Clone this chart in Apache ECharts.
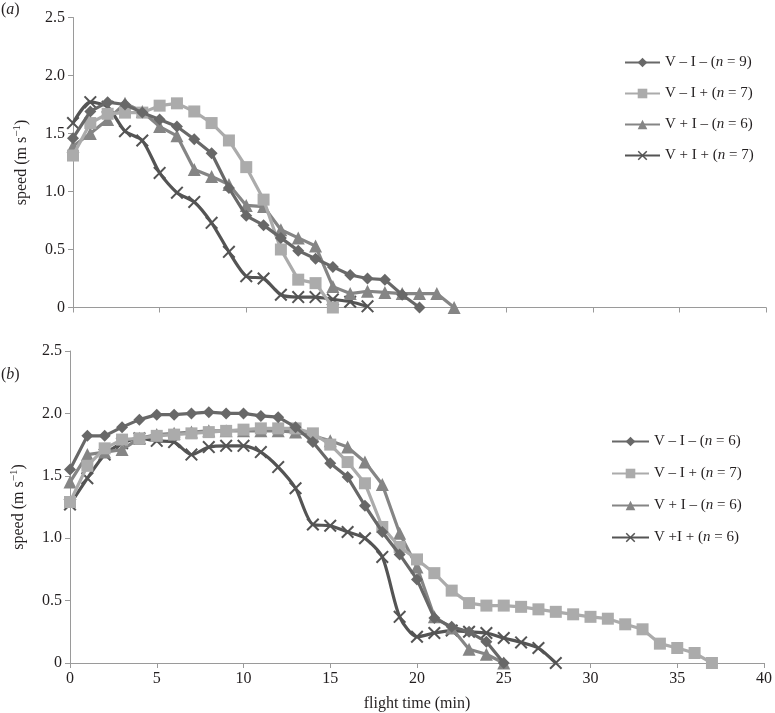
<!DOCTYPE html>
<html>
<head>
<meta charset="utf-8">
<script src="https://cdn.jsdelivr.net/npm/echarts@6/dist/echarts.min.js"></script>
<style>html,body{margin:0;padding:0;background:#fff}#c{width:775px;height:713px}</style>
</head>
<body>
<div id="c"></div>
<script>
// ---- data ----
const minutes = [0,1,2,3,4,5,6,7,8,9,10,11,12,13,14,15,16,17,18,19,20,21,22,23,24,25,26,27,28,29,30,31,32,33,34,35,36,37];
const xTicks = [0,5,10,15,20,25,30,35,40];
const yTicks = [0,0.5,1.0,1.5,2.0,2.5];

const groupLabels = ['V – I – (', 'V – I + (', 'V + I – (', 'V + I + ('];
const groupLabelsB = ['V – I – (', 'V – I + (', 'V + I – (', 'V +I + ('];
const nA = [9, 7, 6, 7];
const nB = [6, 7, 6, 6];

// panel (a)
const aVmIm = [1.46,1.69,1.77,1.75,1.68,1.62,1.56,1.45,1.33,1.03,0.79,0.71,0.60,0.49,0.42,0.35,0.28,0.25,0.24,0.11,0.0];
const aVmIp = [1.31,1.59,1.67,1.68,1.68,1.74,1.76,1.69,1.59,1.44,1.21,0.93,0.50,0.24,0.21,0.0];
const aVpIm = [1.39,1.50,1.62,1.76,1.69,1.56,1.48,1.19,1.13,1.06,0.88,0.87,0.67,0.60,0.53,0.18,0.12,0.14,0.13,0.12,0.12,0.12,0.0];
const aVpIp = [1.59,1.77,1.73,1.52,1.44,1.16,0.99,0.91,0.73,0.48,0.27,0.25,0.11,0.09,0.09,0.07,0.05,0.01];

// panel (b)
const bVmIm = [1.55,1.82,1.82,1.89,1.95,1.99,1.99,2.00,2.01,2.00,2.00,1.98,1.97,1.89,1.77,1.60,1.49,1.26,1.05,0.87,0.67,0.36,0.29,0.25,0.17,0.0];
const bVmIp = [1.29,1.58,1.72,1.79,1.80,1.82,1.83,1.84,1.85,1.86,1.87,1.88,1.88,1.88,1.84,1.75,1.61,1.44,1.09,0.93,0.83,0.72,0.58,0.48,0.46,0.46,0.45,0.43,0.41,0.39,0.37,0.355,0.31,0.27,0.155,0.12,0.08,0.0];
const bVpIm = [1.45,1.67,1.69,1.71,1.80,1.83,1.84,1.85,1.86,1.86,1.86,1.86,1.86,1.85,1.82,1.78,1.73,1.61,1.43,1.04,0.77,0.37,0.28,0.11,0.07,0.0];
const bVpIp = [1.27,1.48,1.67,1.76,1.80,1.78,1.77,1.67,1.73,1.74,1.74,1.69,1.57,1.40,1.11,1.10,1.05,1.00,0.85,0.37,0.21,0.24,0.26,0.25,0.24,0.20,0.165,0.12,0.0];

// ---- styles ----
const FONT = 'Liberation Serif';
const colors = ['#686868', '#ababab', '#858585', '#545454'];
const XMARK = 'path://M0,1.1 L1.1,0 L5,3.9 L8.9,0 L10,1.1 L6.1,5 L10,8.9 L8.9,10 L5,6.1 L1.1,10 L0,8.9 L3.9,5 Z';
const symbols = ['diamond', 'rect', 'triangle', XMARK];
const symSizes = [12, 12, 13, 13];

function pairs(vals){ return vals.map((v,i)=>[minutes[i], v]); }

const seriesA = [aVmIm, aVmIp, aVpIm, aVpIp];
const seriesB = [bVmIm, bVmIp, bVpIm, bVpIp];

function mkSeries(arr, prefix, gi){
  return arr.map((vals, k) => ({
    name: prefix + k,
    type: 'line',
    xAxisIndex: gi, yAxisIndex: gi,
    data: pairs(vals),
    symbol: symbols[k],
    symbolSize: symSizes[k],
    smooth: k === 3 ? 0.25 : false,
    showAllSymbol: true,
    lineStyle: { color: colors[k], width: 3.2 },
    itemStyle: { color: colors[k] },
    emphasis: { disabled: true },
    z: 2 + (3 - k)
  }));
}

const legendNameMap = {};
['a0','a1','a2','a3'].forEach((nm,k)=>{ legendNameMap[nm] = '{r|' + groupLabels[k] + '}{i|n}{r| = ' + nA[k] + ')}'; });
['b0','b1','b2','b3'].forEach((nm,k)=>{ legendNameMap[nm] = '{r|' + groupLabelsB[k] + '}{i|n}{r| = ' + nB[k] + ')}'; });

const legendText = {
  fontFamily: FONT, fontSize: 15, color: '#231f20',
  rich: {
    r: { fontFamily: FONT, fontSize: 15, color: '#231f20' },
    i: { fontFamily: FONT, fontSize: 15, color: '#231f20', fontStyle: 'italic' }
  }
};

const axisLineStyle = { lineStyle: { color: '#9a9a9a', width: 1 } };
const axisLabelStyle = { fontFamily: FONT, fontSize: 16, color: '#231f20' };

function yAxis(gi){
  return {
    type: 'value', gridIndex: gi, min: yTicks[0], max: yTicks[yTicks.length-1], interval: 0.5,
    axisLine: Object.assign({ show: true }, axisLineStyle),
    axisTick: { show: true, length: 5, lineStyle: { color: '#9a9a9a' } },
    splitLine: { show: false },
    axisLabel: Object.assign({ margin: 8, formatter: v => v === 0 ? '0' : v.toFixed(1) }, axisLabelStyle),
    name: '{r|speed (m s}{s|−1}{r|)}',
    nameLocation: 'middle', nameRotate: 90, nameGap: 42,
    nameTextStyle: {
      fontFamily: FONT, fontSize: 16, color: '#231f20',
      rich: {
        r: { fontFamily: FONT, fontSize: 16, color: '#231f20' },
        s: { fontFamily: FONT, fontSize: 11, color: '#231f20', verticalAlign: 'top', padding: [0,0,8,0] }
      }
    }
  };
}
function xAxis(gi, labels){
  const ax = {
    type: 'value', gridIndex: gi, min: xTicks[0], max: xTicks[xTicks.length-1], interval: 5,
    axisLine: Object.assign({ show: true, onZero: false }, axisLineStyle),
    axisTick: { show: true, length: 5, lineStyle: { color: '#9a9a9a' } },
    splitLine: { show: false },
    axisLabel: Object.assign({ show: labels, margin: 8 }, axisLabelStyle)
  };
  if (labels) {
    ax.name = 'flight time (min)';
    ax.nameLocation = 'middle';
    ax.nameGap = 33;
    ax.nameTextStyle = { fontFamily: FONT, fontSize: 16, color: '#231f20' };
  }
  return ax;
}

const option = {
  backgroundColor: '#ffffff',
  animation: false,
  grid: [
    { left: 73, top: 17.5, right: 9, height: 290 },
    { left: 70, top: 351, right: 9, height: 312.5 }
  ],
  xAxis: [xAxis(0, false), xAxis(1, true)],
  yAxis: [yAxis(0), yAxis(1)],
  legend: [
    { data: ['a0','a1','a2','a3'], orient: 'vertical', left: 619, top: 50, itemWidth: 35, itemHeight: 12, itemGap: 16,
      formatter: n => legendNameMap[n], textStyle: legendText, selectedMode: false },
    { data: ['b0','b1','b2','b3'], orient: 'vertical', left: 606, top: 429, itemWidth: 37, itemHeight: 12, itemGap: 17,
      formatter: n => legendNameMap[n], textStyle: legendText, selectedMode: false }
  ],
  graphic: [
    { type: 'text', left: 1, top: 2, style: { text: '{r|(}{i|a}{r|)}', rich: {
        r: { fontFamily: FONT, fontSize: 16, fill: '#231f20' }, i: { fontFamily: FONT, fontSize: 16, fontStyle: 'italic', fill: '#231f20' } } } },
    { type: 'text', left: 1, top: 367, style: { text: '{r|(}{i|b}{r|)}', rich: {
        r: { fontFamily: FONT, fontSize: 16, fill: '#231f20' }, i: { fontFamily: FONT, fontSize: 16, fontStyle: 'italic', fill: '#231f20' } } } }
  ],
  series: mkSeries(seriesA, 'a', 0).concat(mkSeries(seriesB, 'b', 1))
};

const chart = echarts.init(document.getElementById('c'), null, { renderer: 'canvas' });
chart.setOption(option);
</script>
</body>
</html>
